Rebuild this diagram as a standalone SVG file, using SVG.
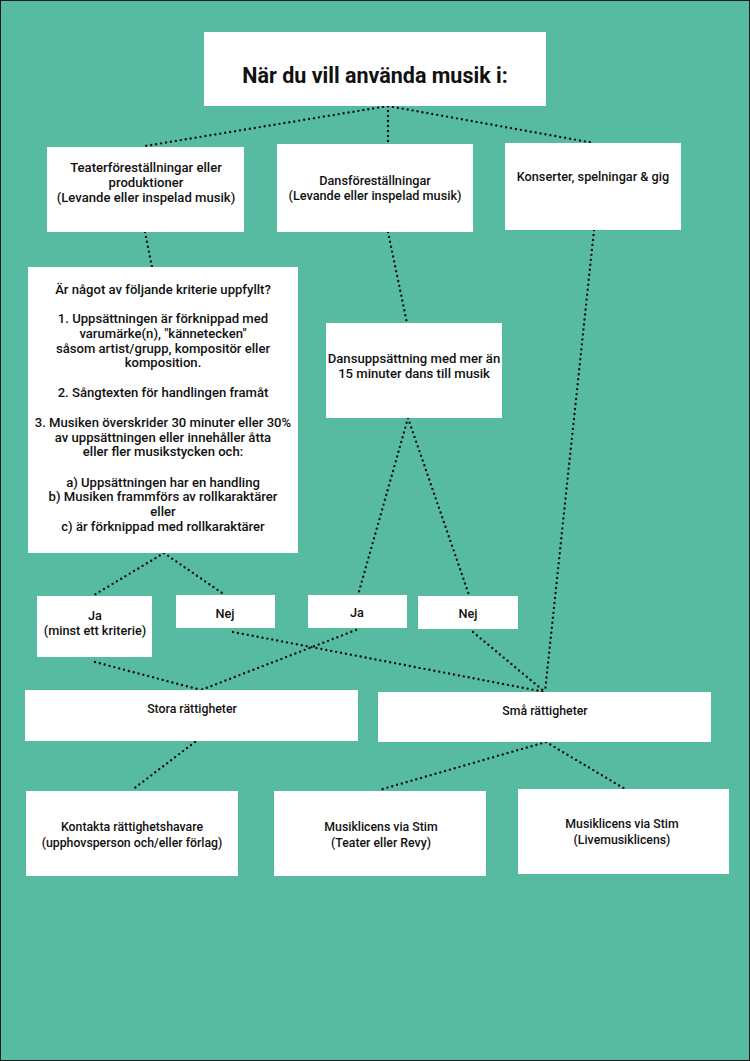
<svg xmlns="http://www.w3.org/2000/svg" width="750" height="1061" viewBox="0 0 750 1061">
<style>
.box{fill:#ffffff}
.t{font-family:Roboto,"Liberation Sans",sans-serif;font-size:12.7px;font-weight:500;fill:#111;text-anchor:middle}
.s{font-size:12.3px}
.k{font-size:13.1px}
.title{font-family:Roboto,"Liberation Sans",sans-serif;font-size:21.5px;font-weight:700;fill:#111;text-anchor:middle}
.c{fill:none;stroke:#111;stroke-width:2.4;stroke-linecap:round;stroke-dasharray:0 5}
</style>
<rect x="0.5" y="0.5" width="749" height="1060" fill="#57bba2" stroke="#1b1b1b" stroke-width="1"/>
<g id="connectors">
<line class="c" x1="388" y1="106" x2="145" y2="146"/>
<line class="c" x1="388" y1="106" x2="388" y2="144"/>
<line class="c" x1="388" y1="106" x2="594" y2="143"/>
<line class="c" x1="145" y1="232" x2="152" y2="267"/>
<line class="c" x1="388" y1="232" x2="407" y2="323"/>
<line class="c" x1="594" y1="230" x2="545" y2="692"/>
<line class="c" x1="164" y1="553" x2="94" y2="595"/>
<line class="c" x1="164" y1="553" x2="225" y2="595"/>
<line class="c" x1="408" y1="418" x2="358" y2="595"/>
<line class="c" x1="408" y1="418" x2="469" y2="595"/>
<line class="c" x1="95" y1="662" x2="201" y2="690"/>
<line class="c" x1="356" y1="630" x2="201" y2="690"/>
<line class="c" x1="233" y1="632" x2="545" y2="692"/>
<line class="c" x1="473" y1="632" x2="545" y2="692"/>
<line class="c" x1="195" y1="742" x2="132" y2="790"/>
<line class="c" x1="546" y1="742" x2="379" y2="790"/>
<line class="c" x1="546" y1="742" x2="625" y2="789"/>
</g>
<g id="title"><rect class="box" x="204" y="32" width="342" height="74"/><text class="title" x="375" y="83">När du vill använda musik i:</text></g>
<g id="teater"><rect class="box" x="47" y="147" width="197" height="85"/><text class="t k" x="146" y="172">Teaterföreställningar eller</text><text class="t k" x="146" y="187">produktioner</text><text class="t k" x="146" y="202">(Levande eller inspelad musik)</text></g>
<g id="dans"><rect class="box" x="277" y="144" width="196" height="88"/><text class="t" x="375" y="185">Dansföreställningar</text><text class="t" x="375" y="200">(Levande eller inspelad musik)</text></g>
<g id="konserter"><rect class="box" x="505" y="143" width="176" height="87"/><text class="t" x="593" y="181">Konserter, spelningar &amp; gig</text></g>
<g id="kriterier"><rect class="box" x="28" y="267" width="270" height="286"/>
<text class="t k" x="163" y="293.5">Är något av följande kriterie uppfyllt?</text>
<text class="t k" x="163" y="323">1. Uppsättningen är förknippad med</text>
<text class="t k" x="163" y="338">varumärke(n), "kännetecken"</text>
<text class="t k" x="163" y="352.5">såsom artist/grupp, kompositör eller</text>
<text class="t k" x="163" y="367">komposition.</text>
<text class="t k" x="163" y="396.5">2. Sångtexten för handlingen framåt</text>
<text class="t k" x="163" y="426.5">3. Musiken överskrider 30 minuter eller 30%</text>
<text class="t k" x="163" y="441.5">av uppsättningen eller innehåller åtta</text>
<text class="t k" x="163" y="456">eller fler musikstycken och:</text>
<text class="t k" x="163" y="486.5">a) Uppsättningen har en handling</text>
<text class="t k" x="163" y="501">b) Musiken frammförs av rollkaraktärer</text>
<text class="t k" x="163" y="516">eller</text>
<text class="t k" x="163" y="530.5">c) är förknippad med rollkaraktärer</text>
</g>
<g id="dansupp"><rect class="box" x="326" y="323" width="176" height="95"/><text class="t k" x="414" y="363">Dansuppsättning med mer än</text><text class="t k" x="414" y="378">15 minuter dans till musik</text></g>
<g id="ja1"><rect class="box" x="37" y="596" width="115" height="61"/><text class="t" x="95" y="620">Ja</text><text class="t" x="95" y="635">(minst ett kriterie)</text></g>
<g id="nej1"><rect class="box" x="176" y="595" width="99" height="33"/><text class="t" x="225" y="618">Nej</text></g>
<g id="ja2"><rect class="box" x="308" y="595" width="99" height="33"/><text class="t" x="357" y="617">Ja</text></g>
<g id="nej2"><rect class="box" x="418" y="596" width="100" height="33"/><text class="t" x="468" y="618">Nej</text></g>
<g id="stora"><rect class="box" x="25" y="690" width="333" height="51"/><text class="t s" x="192" y="713">Stora rättigheter</text></g>
<g id="sma"><rect class="box" x="378" y="692" width="333" height="50"/><text class="t s" x="545" y="715">Små rättigheter</text></g>
<g id="kontakta"><rect class="box" x="26" y="791" width="212" height="85"/><text class="t s" x="132" y="831">Kontakta rättighetshavare</text><text class="t s" x="132" y="847">(upphovsperson och/eller förlag)</text></g>
<g id="stimteater"><rect class="box" x="274" y="791" width="212" height="85"/><text class="t s" x="381" y="831">Musiklicens via Stim</text><text class="t s" x="381" y="847">(Teater eller Revy)</text></g>
<g id="stimlive"><rect class="box" x="518" y="789" width="211" height="85"/><text class="t s" x="622" y="828">Musiklicens via Stim</text><text class="t s" x="622" y="844">(Livemusiklicens)</text></g>
</svg>
